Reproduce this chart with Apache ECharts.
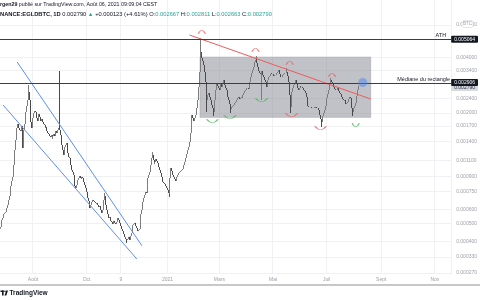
<!DOCTYPE html>
<html><head><meta charset="utf-8">
<script src="https://cdn.jsdelivr.net/npm/echarts@6/dist/echarts.min.js"></script>
<style>html,body{margin:0;padding:0;background:#fff}#c{width:480px;height:300px}</style>
</head><body><div id="c"></div>
<script>
// ---- data (prices in µBTC = 1e-6 BTC) ----
const startDate = '2020-06-25';
const axisDays = 513;            // category span shown on the time axis
const firstOpen = 470;
// daily closes 2020-06-25 .. 2021-08-06
const closes = [
480,498,524,537,564,572,
579,608,632,648,672,707,801,853,
897,1041,1256,1424,1554,1654,1739,1654,1613,
1593,1696,1288,1424,1613,1739,2021,2178,
2347,2594,2347,2072,1783,1654,1874,1995,2046,
2021,1874,1806,1922,1971,1898,1806,1851,1783,
1739,1717,1654,1675,1593,1554,1534,1496,
1478,1515,1442,1496,1534,1496,1593,1554,1613,
1654,1696,1613,1515,1338,1256,1181,1305,1338,
1372,1256,1210,1151,1137,1041,978,954,
920,864,801,782,812,864,885,908,885,
875,897,885,843,812,782,744,690,664,
648,608,632,656,672,664,656,648,
640,648,632,616,624,594,572,594,632,
672,707,632,594,564,537,544,524,518,
511,498,518,505,498,511,537,531,
524,505,486,468,456,440,424,419,413,
408,413,424,408,429,445,462,492,498,
505,486,474,456,462,468,524,564,
594,656,690,716,744,734,812,885,920,
954,1041,1137,1181,1109,1054,1082,1123,1095,
1068,1015,978,943,897,864,843,832,
822,801,782,763,734,725,885,1003,966,
920,897,875,853,864,897,920,943,954,
966,978,991,1003,1041,1082,1137,1196,
1256,1305,1389,1554,1717,1946,1874,1806,1874,
1946,2124,2347,2499,2761,3331,4277,3968,3822,
3636,3331,3090,2939,2347,2499,2562,2437,
2347,2205,2124,2046,2021,2347,2660,2867,2796,
2727,2660,2796,2903,2761,2867,3014,2831,2727,
2660,2530,2437,2347,2233,2098,2151,2178,
2205,2233,2261,2289,2347,2407,2437,2377,2407,
2437,2407,2499,2562,2626,2660,2727,2727,2693,
2761,2939,3129,3289,3415,3546,3775,3871,
3968,3728,3546,3373,3289,3249,3373,3208,3129,
3090,3014,2939,2761,3014,3129,3168,3249,3289,
3249,3249,3168,3208,3208,3289,3331,3373,
3415,3249,3129,3129,3208,3249,3289,3289,3331,
3331,3168,2939,2499,2151,2594,2727,2761,2831,
2867,3014,2867,2727,2660,2727,2796,2761,
2761,2727,2660,2626,2562,2437,2289,2178,2151,
2151,2151,2124,2124,2124,2151,2124,2151,2124,
2124,2072,1946,1851,1783,1828,1922,1995,
2072,2178,2407,2530,2660,2796,2903,3014,2939,
2867,2761,2693,2660,2660,2727,2727,2626,2562,
2530,2437,2377,2347,2318,2347,2233,2261,
2289,2377,2437,2407,2289,2124,2021,2124,2178,
2261,2468,2667,2790];
// notable wicks (day index, high, low)
const wickDays = [32,68,119,144,173,192,228,235,243,262,291,297,326,330,365,376,401,407];
const wickHigh = [2831,3373,734,null,1225,null,5064,null,null,null,4069,null,3502,null,null,3090,null,2811];
const wickLow  = [null,null,null,393,null,699,null,2021,1922,1995,null,2347,null,1995,1675,null,1922,2663];

const yTicks = [0.006,0.004,0.0034,0.0024,0.002,0.0017,0.0014,0.0011,0.0009,0.00075,0.0006,0.0005,0.0004,0.00033,0.00027];
const yRange = [0.0002667, 0.008194];
const xTickDates = ['2020-08-01','2020-10-01','2020-11-09','2021-01-01','2021-03-01','2021-05-01','2021-07-01','2021-09-01','2021-11-01'];
const xTickLabels = ['Août','Oct','9','2021','Mars','Mai','Juil','Sept','Nov'];

const athPrice = 0.005064, medianPrice = 0.002906, lastPrice = 0.002790;
const rectDates = ['2021-02-07','2021-08-20'];
const rectPrices = [0.00401, 0.00189];
const redLineDates = ['2021-01-26','2021-08-20'];
const redLinePrices = [0.00529, 0.002377];
const blueUpDates = ['2020-07-14','2020-12-03'];
const blueUpPrices = [0.003775, 0.000379];
const blueLowDates = ['2020-06-28','2020-11-27'];
const blueLowPrices = [0.002205, 0.000322];
const arcDates  = ['2021-02-09','2021-04-11','2021-05-20','2021-07-07','2021-05-22','2021-06-24','2021-02-21','2021-03-13','2021-04-18','2021-08-03'];
const arcPrices = [0.005493,0.004386,0.003728,0.003209,0.001946,0.001654,0.001806,0.001898,0.002347,0.001717];
const arcKinds  = ['top','top','top','top','bottom','bottom','bottom','bottom','bottom','bottom'];
const arcColors = ['r','r','r','r','r','r','g','g','g','g'];
const arcWidths = [7,7,7,7,12,11,11,12,12,7];
const circleDate = '2021-08-11', circlePrice = 0.00292;

// ---- build ----
const U = 1e-6, L = v => Math.log10(v);
const cats = [];
const d0 = Date.UTC(2020,5,25);
for (let i = 0; i < axisDays; i++) cats.push(new Date(d0 + i*86400000).toISOString().slice(0,10));
const candles = closes.map((c,i) => {
  const o = i === 0 ? firstOpen : closes[i-1];
  let h = Math.max(o,c), l = Math.min(o,c);
  const k = wickDays.indexOf(i);
  if (k >= 0) { if (wickHigh[k] != null) h = Math.max(h, wickHigh[k]); if (wickLow[k] != null) l = Math.min(l, wickLow[k]); }
  return [L(o*U), L(c*U), L(l*U), L(h*U)];
});
const FF = 'Liberation Sans, Arial, sans-serif';
const boxLabel = (txt, bg, fg, dy) => ({show:true, position:'end', formatter: txt, backgroundColor: bg, color: fg,
  fontSize:5, fontFamily:FF, padding:[1.2,3,0.8,3], distance:0, borderRadius:1, offset:[0, dy]});
const arcPath = {top:'path://M0,6 Q6,0 12,6', bottom:'path://M0,0 Q6,6 12,0'};
const arcCol = {r:'#ef5d5d', g:'#4fb35a'};
const hidden = {color:'rgba(0,0,0,0)', width:1, type:'solid'};

const chart = echarts.init(document.getElementById('c'), null, {renderer:'canvas'});
chart.setOption({
  animation:false,
  backgroundColor:'#ffffff',
  grid:{left:0, right:27, top:0, bottom:26},
  xAxis:{type:'category', data:cats, boundaryGap:true,
    axisLine:{show:false}, axisTick:{show:false},
    axisLabel:{interval:(i,v)=>xTickDates.includes(v), formatter:v=>xTickLabels[xTickDates.indexOf(v)],
      fontSize:5, fontFamily:FF, color:'#9ea1aa', margin:3},
    splitLine:{show:true, interval:(i,v)=>xTickDates.includes(v), lineStyle:{color:'#f0f1f4', width:1}}},
  yAxis:{type:'value', position:'right', min:L(yRange[0]), max:L(yRange[1]), scale:true,
    axisLine:{show:false}, axisTick:{show:false, customValues:yTicks.map(L)},
    splitLine:{show:true, lineStyle:{color:'#f0f1f4', width:1}},
    axisLabel:{customValues:yTicks.map(L), formatter:v=>Math.pow(10,v).toFixed(6),
      fontSize:5, fontFamily:FF, color:'#9ea1aa', margin:5}},
  series:[
    {type:'candlestick', z:2, data:candles, barWidth:1.2,
      itemStyle:{color:'#a3a3a3', color0:'#4a4a4a', borderColor:'#7c7c7c', borderColor0:'#4a4a4a', borderWidth:1}},
    {type:'line', z:3, data:[], silent:true,
      markArea:{silent:true, itemStyle:{color:'rgba(125,128,138,0.48)', borderColor:'#a3a5ad', borderWidth:0.6},
        data:[[{xAxis:rectDates[0], yAxis:L(rectPrices[0])},{xAxis:rectDates[1], yAxis:L(rectPrices[1])}]]}},
    {type:'line', z:4, silent:true, showSymbol:false, symbol:'none', lineStyle:{color:'#f05a5a', width:1},
      data:[[redLineDates[0],L(redLinePrices[0])],[redLineDates[1],L(redLinePrices[1])]]},
    {type:'line', z:4, silent:true, showSymbol:false, symbol:'none', lineStyle:{color:'#5f8ef0', width:1},
      data:[[blueUpDates[0],L(blueUpPrices[0])],[blueUpDates[1],L(blueUpPrices[1])]]},
    {type:'line', z:4, silent:true, showSymbol:false, symbol:'none', lineStyle:{color:'#5f8ef0', width:1},
      data:[[blueLowDates[0],L(blueLowPrices[0])],[blueLowDates[1],L(blueLowPrices[1])]]},
    {type:'scatter', z:5, silent:true,
      data:arcDates.map((d,i)=>({value:[d, L(arcPrices[i])], symbol:arcPath[arcKinds[i]], symbolSize:[arcWidths[i],3.5],
        itemStyle:{color:'rgba(0,0,0,0)', borderColor:arcCol[arcColors[i]], borderWidth:1}}))},
    {type:'scatter', z:6, silent:true, symbolSize:9,
      itemStyle:{color:'rgba(72,132,240,0.62)'}, data:[[circleDate, L(circlePrice)]]},
    {type:'line', z:7, data:[], silent:true,
      markLine:{symbol:'none', silent:true,
        data:[
          {yAxis:L(lastPrice), lineStyle:hidden, label:boxLabel(lastPrice.toFixed(6), '#d6d9e0', '#2a2e39', 2.2)}
        ]}},
    {type:'line', z:8, data:[], silent:true,
      markLine:{symbol:'none', silent:true,
        data:[
          {yAxis:L(athPrice), lineStyle:{color:'#3a3d45', width:1, type:'solid'},
            label:{show:true, position:'insideEndTop', formatter:'ATH', color:'#131722', fontSize:5.5, fontFamily:FF, distance:[5,1]}},
          {yAxis:L(medianPrice), lineStyle:{color:'#3a3d45', width:1, type:'solid'},
            label:{show:true, position:'insideEndTop', formatter:'Médiane du rectangle', color:'#131722', fontSize:5.5, fontFamily:FF, distance:[1,1]}},
          {yAxis:L(athPrice), lineStyle:hidden, label:boxLabel(athPrice.toFixed(6), '#131722', '#ffffff', 0)},
          {yAxis:L(medianPrice), lineStyle:hidden, label:boxLabel(medianPrice.toFixed(6), '#131722', '#ffffff', -1)}
        ]}}
  ],
  graphic:[
    {type:'text', x:0, y:5, z:20, style:{text:'{b|rgen29} publié sur TradingView.com, Août 06, 2021 09:09:04 CEST',
      fontSize:5.3, fontFamily:FF, fill:'#131722', verticalAlign:'middle', rich:{b:{fontWeight:'bold', fontSize:5.3, fontFamily:FF}}}},
    {type:'text', x:0, y:14, z:20, style:{text:'{b|NANCE:EGLDBTC, 1D} 0.002790 {g|▲} +0.000123 (+4.61%) O:{g|0.002667} H:{g|0.002811} L:{g|0.002663} C:{g|0.002790}',
      fontSize:5.75, fontFamily:FF, fill:'#131722', verticalAlign:'middle',
      rich:{b:{fontWeight:'bold', fontSize:5.75, fontFamily:FF}, g:{fill:'#26a69a', color:'#26a69a', fontSize:5.75, fontFamily:FF}}}},
    {type:'rect', z:20, shape:{x:462, y:20.5, width:11, height:7, r:2}, style:{fill:'#ffffff', stroke:'#d3d6dd', lineWidth:0.6}},
    {type:'text', z:21, x:467.5, y:24, style:{text:'BTC', fontSize:4.5, fontFamily:FF, fill:'#9ea1aa', align:'center', verticalAlign:'middle'}},
    {type:'line', z:20, shape:{x1:0, y1:285, x2:480, y2:285}, style:{stroke:'#8f8f8f', lineWidth:1.2}},
    {type:'rect', z:20, shape:{x:0.5, y:290.5, width:3.2, height:1.5}, style:{fill:'#131722'}},
    {type:'rect', z:20, shape:{x:2, y:290.5, width:1.6, height:5}, style:{fill:'#131722'}},
    {type:'circle', z:20, shape:{cx:5, cy:291.3, r:0.8}, style:{fill:'#131722'}},
    {type:'polygon', z:20, shape:{points:[[6.2,290.5],[8,290.5],[6.3,295.5],[4.5,295.5]]}, style:{fill:'#131722'}},
    {type:'text', z:20, x:9.5, y:293.2, style:{text:'TradingView', fontSize:6.5, fontWeight:'bold', fontFamily:FF, fill:'#131722', verticalAlign:'middle'}}
  ]
});
</script></body></html>
